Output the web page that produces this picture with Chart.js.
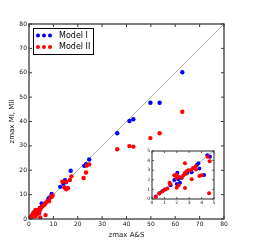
<!DOCTYPE html>
<html>
<head>
<meta charset="utf-8">
<script src="https://cdn.jsdelivr.net/npm/chart.js@4/dist/chart.umd.min.js"></script>
<style>
html,body{margin:0;padding:0;background:#fff;}
#wrap{position:relative;width:269px;height:244px;}
#main{position:absolute;left:0;top:0;}
#inset{position:absolute;left:140px;top:146px;}
</style>
</head>
<body>
<div id="wrap">
<canvas id="main" width="269" height="244"></canvas>
<canvas id="inset" width="78" height="64"></canvas>
</div>
<script>
// ---- data ----
const seriesNames = ["Model I", "Model II"];
const xTitle = "zmax A&S";
const yTitle = "zmax MI, MII";
const mainTicks = [0, 10, 20, 30, 40, 50, 60, 70, 80];
const insetTicks = [0, 1, 2, 3, 4, 5];

const model1X = [62.9, 49.8, 53.6, 41.2, 42.8, 36.2, 24.7, 23.4, 22.7, 17.1, 14.8, 14.1, 15.2, 12.8, 9.3, 8.5, 8.0, 5.2,
  4.46, 4.68, 3.82, 4.2, 3.2, 2.85, 2.04, 2.0, 2.26, 2.12, 1.8, 1.5, 2.39, 1.05, 0.83, 0.6, 3.63, 3.74, 0.3];
const model1Y = [60.2, 47.7, 47.7, 40.2, 40.9, 35.2, 24.4, 22.5, 21.8, 19.8, 15.9, 14.6, 15.2, 13.2, 10.3, 8.8, 8.4, 6.4,
  4.55, 4.41, 3.19, 2.5, 2.78, 2.74, 2.74, 1.56, 1.7, 2.05, 1.98, 1.42, 2.2, 1.0, 0.8, 0.6, 3.58, 3.72, 0.25];

const model2X = [62.9, 49.8, 53.6, 36.2, 41.2, 42.8, 24.7, 23.7, 23.4, 22.4, 17.4, 16.8, 15.3, 13.7, 14.5, 15.2, 16.0,
  9.7, 8.9, 9.3, 8.2, 7.6, 7.0, 6.5, 6.0, 5.6, 5.2, 6.8,
  4.6, 4.49, 4.65, 4.0, 3.82, 3.52, 3.55, 3.3, 3.15, 3.2, 2.93, 2.8, 2.66, 2.66, 2.66, 2.53, 2.39, 1.96, 2.15, 1.99, 1.99,
  1.8, 1.45, 1.42, 1.24, 1.05, 0.85, 0.59, 0.3, 2.2, 2.7];
const model2Y = [44.0, 33.2, 35.2, 28.6, 29.9, 29.7, 22.4, 21.9, 19.1, 16.8, 17.5, 16.0, 15.3, 15.3, 13.0, 12.2, 12.6,
  9.7, 8.9, 9.0, 7.3, 7.4, 6.8, 6.0, 5.6, 5.4, 4.9, 1.6,
  0.59, 4.41, 3.92, 2.47, 2.4, 3.4, 3.06, 3.23, 3.02, 2.05, 2.99, 2.88, 2.74, 3.72, 1.15, 2.47, 2.22, 2.19, 1.42, 1.18, 2.53,
  2.47, 1.56, 1.7, 1.1, 1.0, 0.82, 0.56, 0.24, 2.3, 2.6];

const colors = ["#0000ff", "#ff0000"];
const lineColor = "#b0b0b0";

function pts(xs, ys) { return xs.map((x, i) => ({ x: x, y: ys[i] })); }

// frame with inward ticks on all four sides
function framePlugin(tickLen, lw) {
  return {
    id: 'frame',
    afterDatasetsDraw(chart) {
      const ctx = chart.ctx, a = chart.chartArea;
      const xs = chart.scales.x, ys = chart.scales.y;
      ctx.save();
      ctx.strokeStyle = '#3a3a3a';
      ctx.lineWidth = lw;
      ctx.beginPath();
      xs.ticks.forEach(t => {
        const px = xs.getPixelForValue(t.value);
        ctx.moveTo(px, a.bottom); ctx.lineTo(px, a.bottom - tickLen);
        ctx.moveTo(px, a.top); ctx.lineTo(px, a.top + tickLen);
      });
      ys.ticks.forEach(t => {
        const py = ys.getPixelForValue(t.value);
        ctx.moveTo(a.left, py); ctx.lineTo(a.left + tickLen, py);
        ctx.moveTo(a.right, py); ctx.lineTo(a.right - tickLen, py);
      });
      ctx.stroke();
      ctx.lineWidth = lw + 0.3;
      ctx.strokeRect(a.left, a.top, a.right - a.left, a.bottom - a.top);
      ctx.restore();
    }
  };
}

const whiteArea = {
  id: 'whiteArea',
  beforeDraw(chart) {
    const ctx = chart.ctx, a = chart.chartArea;
    ctx.save(); ctx.fillStyle = '#fff';
    ctx.fillRect(a.left, a.top, a.right - a.left, a.bottom - a.top);
    ctx.restore();
  }
};

const legendPlugin = {
  id: 'customLegend',
  afterDraw(chart) {
    const ctx = chart.ctx, a = chart.chartArea;
    const bx = a.left + 4, by = a.top + 4, bw = 60, bh = 26;
    ctx.save();
    ctx.fillStyle = '#fff';
    ctx.fillRect(bx, by, bw, bh);
    ctx.strokeStyle = '#000'; ctx.lineWidth = 1;
    ctx.strokeRect(bx + 0.5, by + 0.5, bw, bh);
    ctx.font = '8px "DejaVu Sans"';
    ctx.textBaseline = 'middle';
    seriesNames.forEach((n, i) => {
      const cy = by + 7.5 + i * 11.5;
      ctx.fillStyle = colors[i];
      [5, 11, 17].forEach(dx => {
        ctx.beginPath(); ctx.arc(bx + dx, cy, 2, 0, Math.PI * 2); ctx.fill();
      });
      ctx.fillStyle = '#000';
      ctx.fillText(n, bx + 26, cy);
    });
    ctx.restore();
  }
};

function makeDatasets(maxV, r) {
  return [
    { type: 'line', data: [{ x: 0, y: 0 }, { x: maxV, y: maxV }], borderColor: lineColor, borderWidth: 1,
      pointRadius: 0, fill: false, order: 3, clip: 0 },
    { label: seriesNames[0], data: pts(model1X, model1Y), backgroundColor: colors[0], borderColor: colors[0],
      pointRadius: r, borderWidth: 0, order: 2, clip: 0 },
    { label: seriesNames[1], data: pts(model2X, model2Y), backgroundColor: colors[1], borderColor: colors[1],
      pointRadius: r, borderWidth: 0, order: 1, clip: 0 }
  ];
}

function axis(ticksArr, fontSize, pad, fitKey, fitVal, title, titlePad) {
  return {
    type: 'linear',
    min: ticksArr[0], max: ticksArr[ticksArr.length - 1],
    afterBuildTicks(s) { s.ticks = ticksArr.map(v => ({ value: v })); },
    grid: { display: false, drawTicks: false },
    border: { display: false },
    ticks: { font: { family: 'DejaVu Sans', size: fontSize }, color: '#111', padding: pad, maxRotation: 0, autoSkip: false },
    title: title ? { display: true, text: title, font: { family: 'DejaVu Sans', size: 7 }, color: '#111', padding: titlePad } : { display: false },
    afterFit(s) { s[fitKey] = fitVal; }
  };
}

new Chart(document.getElementById('main'), {
  type: 'scatter',
  data: { datasets: makeDatasets(80, 2.2) },
  options: {
    responsive: false, animation: false, devicePixelRatio: 1,
    layout: { padding: { top: 24, right: 45, left: 0, bottom: 0 } },
    plugins: { legend: { display: false }, tooltip: { enabled: false } },
    scales: {
      x: axis(mainTicks, 6, 2, 'height', 25, xTitle, { top: 0, bottom: 5 }),
      y: axis(mainTicks, 6, 2, 'width', 29, yTitle, { top: 8, bottom: 0 })
    }
  },
  plugins: [framePlugin(3, 1), legendPlugin]
});

new Chart(document.getElementById('inset'), {
  type: 'scatter',
  data: { datasets: makeDatasets(5, 2) },
  options: {
    responsive: false, animation: false, devicePixelRatio: 1,
    layout: { padding: { top: 5, right: 4, left: 0, bottom: 0 } },
    plugins: { legend: { display: false }, tooltip: { enabled: false } },
    scales: {
      x: axis(insetTicks, 4.5, 1, 'height', 11, null),
      y: axis(insetTicks, 4.5, 2, 'width', 12, null)
    }
  },
  plugins: [whiteArea, framePlugin(2, 0.8)]
});
</script>
</body>
</html>
